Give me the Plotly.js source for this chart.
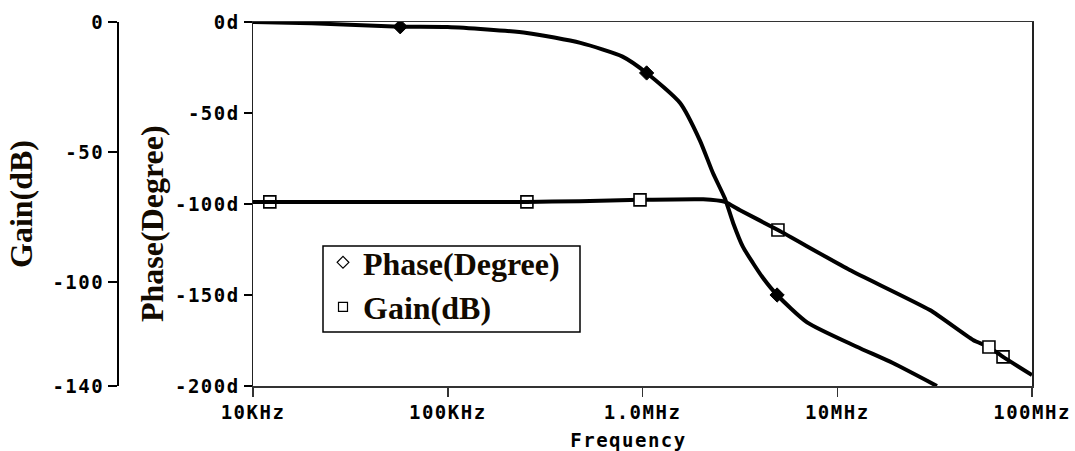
<!DOCTYPE html>
<html>
<head>
<meta charset="utf-8">
<script src="https://cdn.plot.ly/plotly-3.0.1.min.js"></script>
<style>
  html, body { margin: 0; padding: 0; background: #fff; }
  #chart { width: 1075px; height: 451px; }
  g.xtick text, g.ytick text, g.y2tick text { letter-spacing: 1.5px; }
  g.annotation[data-index="0"] text { letter-spacing: 1.5px; }
</style>
</head>
<body>
<div id="chart"></div>
<script>
// ---- data ----
const phaseFreq = [1e4, 2e4, 5.7e4, 1e5, 2.55e5, 4.8e5, 7.9e5, 1.05e6, 1.56e6, 1.97e6, 2.3e6, 2.65e6, 2.92e6, 3.28e6, 3.69e6, 4.16e6, 4.91e6, 7.0e6, 1.26e7, 1.93e7, 3.25e7];
const phaseDeg  = [0, -0.7, -2.6, -2.8, -6, -11.5, -19, -28, -44.5, -65, -83, -97, -110.4, -123.6, -132.4, -140.7, -150, -165, -178.4, -187.4, -200];

const gainFreq = [1e4, 2.55e5, 4.77e5, 9.71e5, 2.05e6, 2.65e6, 3.17e6, 4.96e6, 1.16e7, 2.99e7, 4.98e7, 6.01e7, 7.1e7, 1e8];
const gainDb   = [-69.2, -69.2, -68.9, -68.4, -68.2, -69.2, -72.4, -80, -95.4, -110.8, -122.3, -125, -128.8, -135.8];

const phaseMarkFreq = [5.7e4, 1.05e6, 4.91e6];
const phaseMarkDeg  = [-2.6, -28, -150];

const gainMarkFreq = [1.22e4, 2.55e5, 9.71e5, 4.96e6, 6.01e7, 7.1e7];
const gainMarkDb   = [-69.2, -69.2, -68.4, -80, -125, -128.8];

const xTickVals = [1e4, 1e5, 1e6, 1e7, 1e8];
const xTickText = ['10KHz', '100KHz', '1.0MHz', '10MHz', '100MHz'];
const phaseTickVals = [0, -50, -100, -150, -200];
const phaseTickText = ['0d', '-50d', '-100d', '-150d', '-200d'];
const gainTickVals = [0, -50, -100, -140];
const gainTickText = ['0', '-50', '-100', '-140'];

const seriesNames = ['Phase(Degree)', 'Gain(dB)'];
const xTitle = 'Frequency';

// ---- styling ----
const W = 1075, H = 451;
const plotTop = 22, plotBottom = 386;
const py = (pix) => (plotBottom - pix) / (plotBottom - plotTop); // pixel row -> paper y
const monoFont = { family: 'DejaVu Sans Mono, monospace', size: 19, color: '#000', weight: 'bold' };
const serifFont = { family: 'Liberation Serif, Times New Roman, serif', size: 32, color: '#120a00', weight: 'bold' };

const traces = [
  { x: gainFreq, y: gainDb, xaxis: 'x', yaxis: 'y2', mode: 'lines', line: { color: '#000', width: 4, shape: 'spline', smoothing: 0.5 }, showlegend: false, hoverinfo: 'skip' },
  { x: phaseFreq, y: phaseDeg, xaxis: 'x', yaxis: 'y', mode: 'lines', line: { color: '#000', width: 4, shape: 'spline', smoothing: 0.6 }, showlegend: false, hoverinfo: 'skip' },
  { x: phaseMarkFreq, y: phaseMarkDeg, xaxis: 'x', yaxis: 'y', mode: 'markers',
    marker: { symbol: 'diamond', size: 11, color: '#000', line: { color: '#000', width: 1 } }, showlegend: false },
  { x: gainMarkFreq, y: gainMarkDb, xaxis: 'x', yaxis: 'y2', mode: 'markers',
    marker: { symbol: ['square-open', 'square-open', 'square', 'square-open', 'square', 'square-open'], size: 12,
              color: ['#000', '#000', '#fff', '#000', '#fff', '#000'],
              line: { color: '#000', width: 1.6 } }, showlegend: false },
  // legend entries
  { x: [null], y: [null], xaxis: 'x', yaxis: 'y', mode: 'markers', name: seriesNames[0],
    marker: { symbol: 'diamond-open', size: 9, color: '#000', line: { width: 1.2 } } },
  { x: [null], y: [null], xaxis: 'x', yaxis: 'y2', mode: 'markers', name: seriesNames[1],
    marker: { symbol: 'square-open', size: 9, color: '#000', line: { width: 1.2 } } }
];

const layout = {
  width: W, height: H,
  margin: { l: 0, r: 0, t: plotTop, b: H - plotBottom, pad: 0 },
  paper_bgcolor: '#fff', plot_bgcolor: '#fff',
  showlegend: true,
  legend: {
    x: 323 / W, xanchor: 'left',
    y: py(235), yanchor: 'top',
    bgcolor: 'rgba(0,0,0,0)', borderwidth: 0,
    font: serifFont, tracegroupgap: 0, itemwidth: 30
  },
  shapes: [
    { type: 'rect', xref: 'paper', yref: 'paper', x0: 323 / W, x1: 580 / W, y0: py(332), y1: py(246),
      line: { color: '#000', width: 1.5 }, fillcolor: '#fff', layer: 'above' }
  ],
  annotations: [
    { text: xTitle, xref: 'paper', yref: 'paper', x: 628 / W, y: py(440), xanchor: 'center', yanchor: 'middle',
      showarrow: false, font: monoFont },
    { text: seriesNames[0], xref: 'paper', yref: 'paper', x: 152 / W, y: py(224), xanchor: 'center', yanchor: 'middle',
      textangle: -90, showarrow: false, font: serifFont }
  ],
  xaxis: {
    type: 'log', range: [4, 8], domain: [253 / W, 1032 / W],
    tickvals: xTickVals, ticktext: xTickText, tickfont: monoFont,
    ticks: 'outside', ticklen: 9, tickwidth: 1.5, tickcolor: '#333',
    showline: true, linecolor: '#333', linewidth: 1.5, mirror: true,
    showgrid: false, zeroline: false
  },
  yaxis: {
    range: [-200, 0], tickvals: phaseTickVals, ticktext: phaseTickText, tickfont: monoFont,
    ticks: 'outside', ticklen: 8, tickwidth: 1.5, tickcolor: '#000',
    showline: true, linecolor: '#222', linewidth: 1.5, mirror: true,
    showgrid: false, zeroline: false, anchor: 'x'
  },
  yaxis2: {
    range: [-140, 0], tickvals: gainTickVals, ticktext: gainTickText, tickfont: monoFont,
    ticks: 'outside', ticklen: 9, tickwidth: 1.5, tickcolor: '#000',
    showline: true, linecolor: '#000', linewidth: 1.5,
    showgrid: false, zeroline: false,
    overlaying: 'y', anchor: 'free', position: 117 / W, side: 'left',
    title: { text: seriesNames[1], font: serifFont, standoff: 8 }
  }
};

Plotly.newPlot('chart', traces, layout, { staticPlot: true, displayModeBar: false });
</script>
</body>
</html>
